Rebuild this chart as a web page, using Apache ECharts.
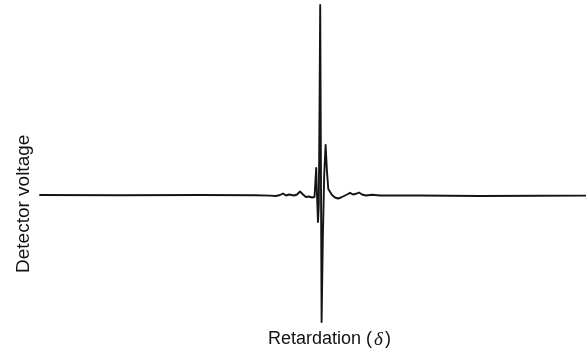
<!DOCTYPE html>
<html>
<head>
<meta charset="utf-8">
<script src="https://cdn.jsdelivr.net/npm/echarts@6/dist/echarts.min.js"></script>
<style>
  html, body { margin: 0; padding: 0; background: #ffffff; }
  #chart { width: 586px; height: 353px; }
</style>
</head>
<body>
<div id="chart"></div>
<script>
// Interferogram: detector voltage against retardation (arbitrary units, centre burst at 0)
const retardation = [
  -280, -200, -120, -65, -50, -44, -40, -37, -34, -31, -29, -26, -23, -20, -17, -14, -11, -8, -5.5,
  -4.5, -3.8, -3, -2, -1.2, -0.4, 0.2, 0.9, 1.6, 2.8, 4.2, 5.6, 7, 8.3, 10, 12,
  15, 18, 21, 24, 27, 30, 33, 36, 39, 42, 46, 52, 60, 100, 160, 220, 266
];
const voltage = [
  0, -0.3, 0, -0.3, -0.6, -1, 0, 1.5, -0.5, 0.5, 2, -0.5, 0.5, 3.5, 0.5, -2, -1.5, -2.5, -2,
  15, 27, 0, -27, -10, 95, 190, 35, -127, -45, 20, 50, 23, 6, 4, 0,
  -2.5, -3.5, -2.5, -1, 0.5, 2.2, 0.5, 1.2, 2.5, 0.5, -0.5, 0.2, -0.5, -0.5, -1, -0.8, -0.6
];
const xTitle = 'Retardation (';
const deltaSymbol = 'δ';
const yTitle = 'Detector voltage';

const points = retardation.map((r, i) => [r, voltage[i]]);

const chart = echarts.init(document.getElementById('chart'), null, { renderer: 'canvas' });
chart.setOption({
  backgroundColor: '#ffffff',
  animation: false,
  grid: { left: 40, top: 5, width: 546, height: 317, containLabel: false },
  xAxis: {
    type: 'value', min: -280, max: 266,
    axisLine: { show: false }, axisTick: { show: false },
    axisLabel: { show: false }, splitLine: { show: false }
  },
  yAxis: {
    type: 'value', min: -127, max: 190,
    axisLine: { show: false }, axisTick: { show: false },
    axisLabel: { show: false }, splitLine: { show: false }
  },
  series: [{
    type: 'line',
    data: points,
    showSymbol: false,
    smooth: false,
    lineStyle: { color: '#141414', width: 1.9, join: 'round', cap: 'round' }
  }],
  graphic: [
    {
      type: 'text',
      left: 268, top: 330,
      style: {
        text: '{n|' + xTitle + '}{d|' + deltaSymbol + '}{n|)}',
        rich: {
          n: { fontFamily: 'Liberation Sans, Arial, sans-serif', fontSize: 18, fill: '#111' },
          d: { fontFamily: 'Liberation Serif, serif', fontStyle: 'italic', fontSize: 19, fill: '#111', padding: [0, 2, 0, 2] }
        }
      }
    },
    {
      type: 'text',
      x: 14, y: 273,
      rotation: Math.PI / 2,
      style: {
        text: yTitle,
        fontFamily: 'Liberation Sans, Arial, sans-serif',
        fontSize: 19,
        fill: '#111',
        textAlign: 'left',
        textVerticalAlign: 'top'
      }
    }
  ]
});
</script>
</body>
</html>
